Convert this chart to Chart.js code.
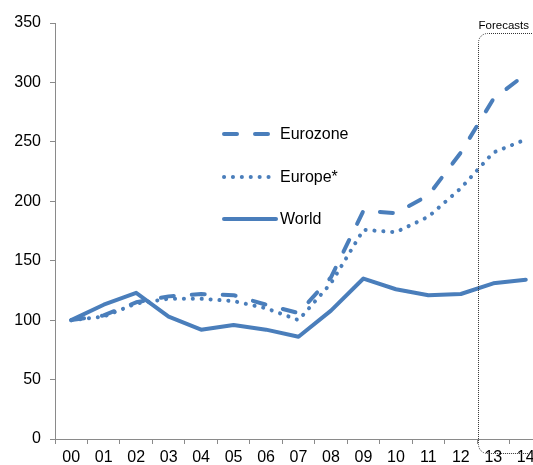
<!DOCTYPE html>
<html>
<head>
<meta charset="utf-8">
<script src="https://cdn.jsdelivr.net/npm/chart.js@4.4.0/dist/chart.umd.min.js"></script>
<style>
  html, body { margin: 0; padding: 0; background: #fff; overflow: hidden; }
  #wrap { width: 546px; height: 465px; position: relative; }
</style>
</head>
<body>
<div id="wrap"><canvas id="chart"></canvas></div>
<script>
const years = ["00","01","02","03","04","05","06","07","08","09","10","11","12","13","14"];
const eurozone = [100, 104, 115, 120, 122, 121, 113, 106, 136, 192, 190, 205, 241, 286, 307];
const europe = [100, 103, 114, 118, 118, 116, 110, 100, 131, 176, 174, 187, 211, 241, 252];
const world = [100, 113, 123, 103, 92, 96, 92, 86, 108, 135, 126, 121, 122, 131, 134];
const yTicks = [0, 50, 100, 150, 200, 250, 300, 350];

const blue = "#4a7ebb";
const axisGrey = "#8a8a8a";
const font = "Liberation Sans, Arial, sans-serif";

// legend drawn inside the plot, like the original
const insideLegend = {
  id: "insideLegend",
  afterDatasetsDraw(chart) {
    const c = chart.ctx;
    const rows = [
      { y: 134, x2: 269, ds: chart.data.datasets[0] },
      { y: 177, x2: 269, ds: chart.data.datasets[1] },
      { y: 219, x2: 276, ds: chart.data.datasets[2] }
    ];
    c.save();
    rows.forEach(r => {
      c.beginPath();
      c.strokeStyle = r.ds.borderColor;
      c.lineWidth = r.ds.borderWidth;
      c.lineCap = r.ds.borderCapStyle || "butt";
      c.setLineDash(r.ds.borderDash || []);
      c.moveTo(224, r.y);
      c.lineTo(r.x2, r.y);
      c.stroke();
      c.setLineDash([]);
      c.fillStyle = "#000";
      c.font = "16px " + font;
      c.textBaseline = "middle";
      c.fillText(r.ds.label, 280, r.y + 1);
    });
    c.restore();
  }
};

// dotted rounded box marking the forecast years
const forecastBox = {
  id: "forecastBox",
  afterDatasetsDraw(chart) {
    const c = chart.ctx;
    const x = chart.scales.x;
    const left = Math.round((x.getPixelForValue(12) + x.getPixelForValue(13)) / 2) + 1.5;
    const top = 33.5, bottom = 453.5, right = 600, r = 9;
    c.save();
    c.strokeStyle = "#333";
    c.lineWidth = 1;
    c.setLineDash([1, 1]);
    c.beginPath();
    c.moveTo(right, top);
    c.lineTo(left + r, top);
    c.arcTo(left, top, left, top + r, r);
    c.lineTo(left, bottom - r);
    c.arcTo(left, bottom, left + r, bottom, r);
    c.lineTo(right, bottom);
    c.stroke();
    c.setLineDash([]);
    c.fillStyle = "#000";
    c.font = "11.5px " + font;
    c.textAlign = "left";
    c.textBaseline = "middle";
    c.fillText("Forecasts", left, 26);
    c.restore();
  }
};

new Chart(document.getElementById("chart"), {
  type: "line",
  data: {
    labels: years,
    datasets: [
      {
        label: "Eurozone",
        data: eurozone,
        borderColor: blue,
        borderWidth: 4,
        borderDash: [13, 18],
        borderCapStyle: "round",
        borderJoinStyle: "round",
        pointRadius: 0,
        tension: 0,
        fill: false
      },
      {
        label: "Europe*",
        data: europe,
        borderColor: blue,
        borderWidth: 4,
        borderDash: [0.1, 8.8],
        borderCapStyle: "round",
        borderJoinStyle: "round",
        pointRadius: 0,
        tension: 0,
        fill: false
      },
      {
        label: "World",
        data: world,
        borderColor: blue,
        borderWidth: 4,
        borderCapStyle: "round",
        borderJoinStyle: "round",
        pointRadius: 0,
        tension: 0,
        fill: false
      }
    ]
  },
  options: {
    responsive: true,
    maintainAspectRatio: false,
    animation: false,
    layout: { padding: { top: 23, right: 4, bottom: 0, left: 0 } },
    plugins: {
      legend: { display: false },
      tooltip: { enabled: false }
    },
    scales: {
      x: {
        offset: true,
        grid: {
          offset: true,
          drawOnChartArea: false,
          drawTicks: true,
          tickLength: 5,
          color: axisGrey
        },
        border: { display: true, color: axisGrey, width: 1 },
        ticks: {
          color: "#000",
          font: { family: font, size: 16 },
          padding: 4,
          maxRotation: 0,
          autoSkip: false
        },
        afterFit(scale) { scale.height = 26; }
      },
      y: {
        min: yTicks[0],
        max: yTicks[yTicks.length - 1],
        afterBuildTicks(scale) { scale.ticks = yTicks.map(v => ({ value: v })); },
        grid: {
          drawOnChartArea: false,
          drawTicks: true,
          tickLength: 5,
          color: axisGrey
        },
        border: { display: true, color: axisGrey, width: 1 },
        ticks: {
          color: "#000",
          font: { family: font, size: 16 },
          padding: 9
        },
        afterFit(scale) { scale.width = 55; }
      }
    }
  },
  plugins: [forecastBox, insideLegend]
});
</script>
</body>
</html>
